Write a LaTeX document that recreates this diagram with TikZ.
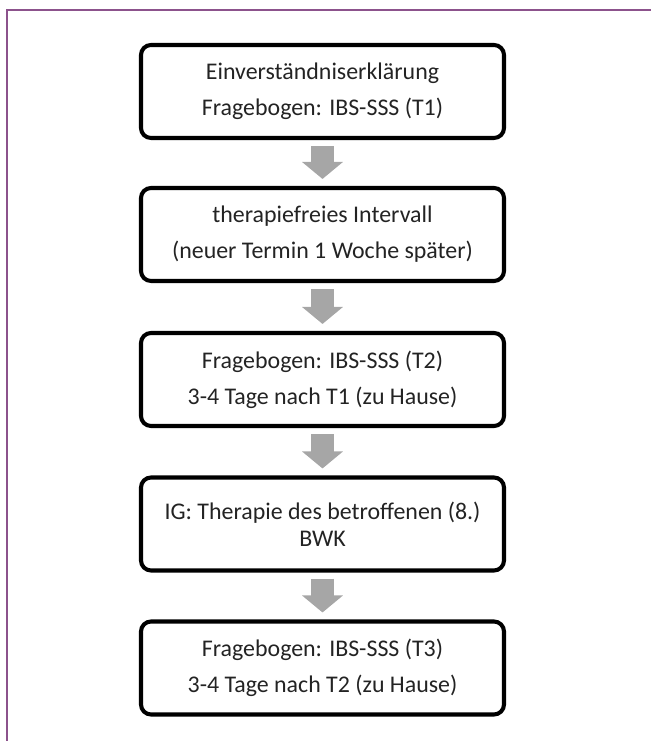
\documentclass[tikz,border=0pt]{standalone}
\usepackage{fontspec}
\setmainfont{Carlito}
\usetikzlibrary{arrows.meta}
\definecolor{framepurple}{RGB}{140,82,140}
\definecolor{arrowgray}{RGB}{166,166,166}
\definecolor{textgray}{RGB}{35,35,35}
\begin{document}
\begin{tikzpicture}[
    box/.style={draw, line width=2.3pt, rounded corners=0.2cm, minimum width=7.26cm,
      minimum height=1.86cm, align=center, text=textgray, inner sep=0pt,
      font=\fontsize{13.6}{15.4}\selectfont},
    flow/.style={draw=arrowgray, line width=0.46cm, -{Triangle[width=0.8cm,length=0.34cm]},
      shorten <=0.12cm, shorten >=0.14cm}]
    \useasboundingbox (0,0) rectangle (13.02,14.82);
    % frame
    \draw[framepurple, line width=0.04cm] (0.14,0) -- (0.14,14.62) -- (13.02,14.62);
    \node[box] (b1) at (6.45,12.99) {Einverständniserklärung\\[5.1pt]Fragebogen: IBS-SSS (T1)};
    \node[box] (b2) at (6.45,10.13) {therapiefreies Intervall\\[5.1pt](neuer Termin 1 Woche später)};
    \node[box] (b3) at (6.45,7.23) {Fragebogen: IBS-SSS (T2)\\[5.1pt]3-4 Tage nach T1 (zu Hause)};
    \node[box] (b4) at (6.45,4.34) {IG: Therapie des betroffenen (8.)\\BWK};
    \node[box] (b5) at (6.45,1.46) {Fragebogen: IBS-SSS (T3)\\[5.1pt]3-4 Tage nach T2 (zu Hause)};
    \draw[flow] (b1) -- (b2);
    \draw[flow] (b2) -- (b3);
    \draw[flow] (b3) -- (b4);
    \draw[flow] (b4) -- (b5);
\end{tikzpicture}
\end{document}
